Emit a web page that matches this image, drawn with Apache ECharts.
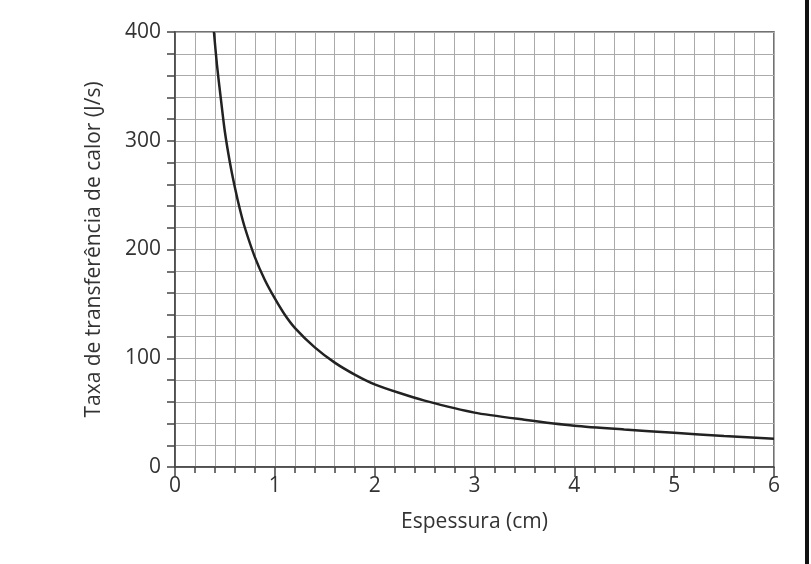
<!DOCTYPE html>
<html>
<head>
<meta charset="utf-8">
<script src="https://cdn.jsdelivr.net/npm/echarts@6/dist/echarts.min.js"></script>
<style>
  html, body { margin: 0; padding: 0; background: #fff; }
  #chart { width: 811px; height: 564px; }
</style>
</head>
<body>
<div id="chart"></div>
<script>
// espessura (cm) e taxa (J/s)
var espessura = [0.39, 0.42, 0.46, 0.5, 0.55, 0.6, 0.65, 0.7, 0.8, 0.9, 1.0, 1.1, 1.2, 1.4, 1.6, 1.8, 2.0, 2.25, 2.5, 3.0, 3.5, 4.0, 4.5, 5.0, 5.5, 6.0];
var taxa = [400, 370, 338, 308, 280, 257, 237, 220, 193, 172, 155, 140, 128, 110, 96, 85, 76, 68, 61, 50, 43.5, 38, 34.5, 31.5, 28.5, 26];
var xTicks = [0, 1, 2, 3, 4, 5, 6];
var yTicks = [0, 100, 200, 300, 400];

var myChart = echarts.init(document.getElementById('chart'));

var pontos = espessura.map(function (x, i) { return [x, taxa[i]]; });
var fonte = '"Open Sans", sans-serif';

var option = {
  backgroundColor: '#fff',
  animation: false,
  grid: {
    left: 175, right: 37, top: 32, bottom: 97,
    show: true,
    borderColor: '#444',
    borderWidth: 1.5
  },
  xAxis: {
    type: 'value',
    min: xTicks[0],
    max: xTicks[xTicks.length - 1],
    interval: 1,
    name: 'Espessura (cm)',
    nameLocation: 'middle',
    nameGap: 45,
    nameTextStyle: { fontFamily: fonte, fontSize: 21, color: '#333' },
    axisLine: { lineStyle: { color: '#444', width: 1.5 } },
    axisTick: { show: true, length: 10, lineStyle: { color: '#444', width: 1.5 } },
    minorTick: { show: true, splitNumber: 5, length: 6, lineStyle: { color: '#444', width: 1.5 } },
    axisLabel: { fontFamily: fonte, fontSize: 21, color: '#333', margin: 9 },
    splitLine: { show: true, lineStyle: { color: '#aaa', width: 1 } },
    minorSplitLine: { show: true, lineStyle: { color: '#aaa', width: 1 } }
  },
  yAxis: {
    type: 'value',
    min: yTicks[0],
    max: yTicks[yTicks.length - 1],
    interval: 100,
    name: 'Taxa de transferência de calor (J/s)',
    nameLocation: 'middle',
    nameGap: 70,
    nameTextStyle: { fontFamily: fonte, fontSize: 21, color: '#333' },
    axisLine: { show: true, lineStyle: { color: '#444', width: 1.5 } },
    axisTick: { show: true, length: 8, lineStyle: { color: '#444', width: 1.5 } },
    minorTick: { show: true, splitNumber: 5, length: 8, lineStyle: { color: '#444', width: 1.5 } },
    axisLabel: { fontFamily: fonte, fontSize: 21, color: '#333', margin: 14 },
    splitLine: { show: true, lineStyle: { color: '#aaa', width: 1 } },
    minorSplitLine: { show: true, lineStyle: { color: '#aaa', width: 1 } }
  },
  graphic: [{
    type: 'rect',
    shape: { x: 805, y: 0, width: 4, height: 564 },
    style: { fill: '#111' }
  }],
  series: [{
    type: 'line',
    data: pontos,
    smooth: 0.25,
    showSymbol: false,
    clip: true,
    lineStyle: { color: '#222', width: 2.5 }
  }]
};

myChart.setOption(option);
</script>
</body>
</html>
